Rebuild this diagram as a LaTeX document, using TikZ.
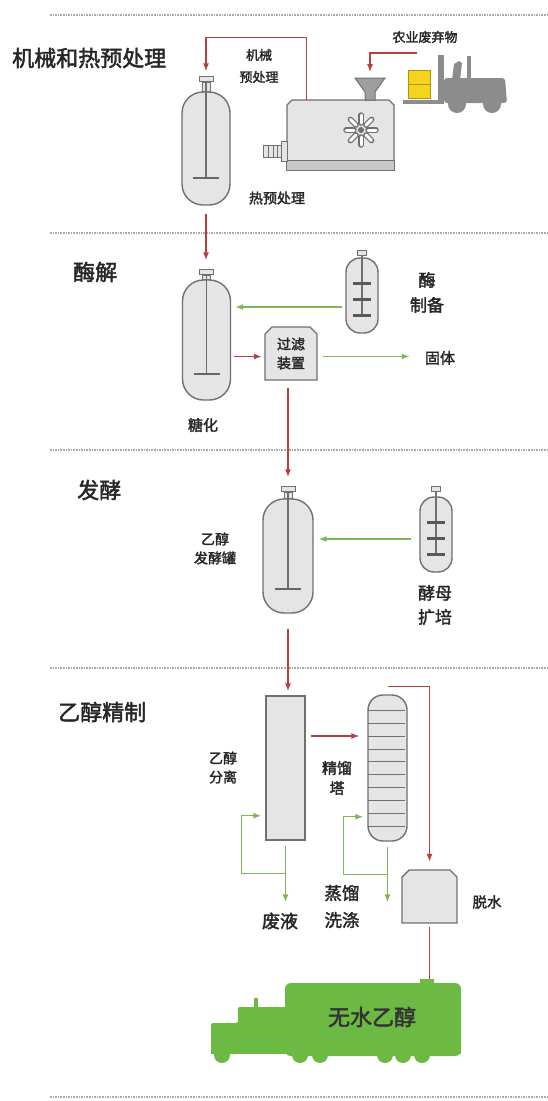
\documentclass[tikz,border=0pt]{standalone}
\usepackage{fontspec}
\setmainfont{Noto Sans CJK SC}[AutoFakeBold=2]
\usetikzlibrary{arrows.meta,positioning}
\definecolor{redline}{RGB}{183,64,62}
\definecolor{greenline}{RGB}{128,182,88}
\definecolor{truckgreen}{RGB}{108,185,68}
\definecolor{tankfill}{RGB}{229,229,229}
\definecolor{bandgray}{RGB}{200,200,200}
\definecolor{edgegray}{RGB}{112,112,112}
\definecolor{liftgray}{RGB}{140,140,140}
\definecolor{boxyellow}{RGB}{246,212,30}
\definecolor{sepgray}{RGB}{170,170,170}

\begin{document}
\begin{tikzpicture}[x=1pt,y=-1pt]
\tikzstyle{every node}+=[inner sep=0pt, text=black!85]
\tikzstyle{divider}=[draw=sepgray, densely dotted, line width=1.6pt]
\tikzstyle{vessel}=[draw=edgegray, fill=tankfill, line width=1.4pt, rounded corners=21pt, minimum width=48pt]
\tikzstyle{smallvessel}=[draw=edgegray, fill=tankfill, line width=1.4pt, rounded corners=14pt, minimum width=32pt, minimum height=75pt]
\tikzstyle{lid}=[draw=edgegray, fill=tankfill, line width=1pt, minimum width=14pt, minimum height=5pt]
\tikzstyle{shell}=[draw=edgegray, fill=tankfill, line width=1.4pt]
\tikzstyle{shaft}=[draw=edgegray, line width=1.3pt]
\tikzstyle{blade}=[draw=black!60, line width=2.2pt]
\tikzstyle{paddle}=[draw=black!65, line width=3pt]
\tikzstyle{flow}=[draw=redline, line width=1.3pt, -{Latex[length=8pt,width=6pt]}]
\tikzstyle{feed}=[draw=greenline, line width=1.5pt, -{Latex[length=8pt,width=6pt]}]
\tikzstyle{stagetitle}=[anchor=west, font=\bfseries\fontsize{22}{26}\selectfont]
\tikzstyle{lbl}=[align=center, font=\bfseries\fontsize{14}{19}\selectfont]

\useasboundingbox (0,0) rectangle (548,1101);
\fill[white] (0,0) rectangle (548,1101);

\foreach \y in {15,233,450,668,1097}
  \draw[divider] (50,\y) -- (548,\y);

\node[stagetitle] (t1) at (12,58) {机械和热预处理};
\node[stagetitle] (t2) at (73,272) {酶解};
\node[stagetitle] (t3) at (77,490) {发酵};
\node[stagetitle] (t4) at (58,712) {乙醇精制};

% mechanical and thermal pretreatment
\node[vessel, minimum height=113pt] (tank1) at (206,148.5) {};
\node[lid, above=9pt of tank1] (cap1) {};
\draw[draw=edgegray, fill=tankfill, line width=1pt] ([xshift=-4pt]cap1.south) rectangle ([xshift=4pt]cap1.south |- tank1.north);
\draw[shaft] (cap1.south) -- ([yshift=28pt]tank1.south);
\draw[blade] ([yshift=28pt]tank1.south) ++(-13,0) -- ++(26,0);
\node[lbl] (hot) at (277,198) {热预处理};

\filldraw[shell] (287,170) -- (287,105) -- (292,100) -- (389,100) -- (394,105) -- (394,170) -- cycle;
\node[minimum width=107pt, minimum height=70pt] (mill) at (340.5,135) {};
\filldraw[draw=edgegray, fill=bandgray, line width=1.2pt] (mill.south west) rectangle ([yshift=10pt]mill.south east);
\coordinate (fan) at (361,130);
\foreach \a in {0,45,...,315}
  \draw[edgegray, line width=5.5pt, line cap=round] (fan) ++(\a:7) -- ++(\a:8);
\foreach \a in {0,45,...,315}
  \draw[white, line width=3pt, line cap=round] (fan) ++(\a:7) -- ++(\a:8);
\fill[edgegray] (fan) circle (3);
\filldraw[draw=edgegray, fill=tankfill, line width=1pt] (263,145) rectangle (281,157);
\draw[edgegray, line width=1pt] (268,145) -- (268,157) (273,145) -- (273,157) (277,145) -- (277,157);
\filldraw[draw=edgegray, fill=tankfill, line width=1pt] (281,141) rectangle (287,161);
\filldraw[draw=edgegray, fill=black!38, line width=1pt] (355,78) -- (385,78) -- (375,92) -- (375,100) -- (365,100) -- (365,92) -- cycle;
\coordinate (hopper) at (370,78);

\fill[liftgray] (438,55) rectangle (444,104);
\fill[liftgray] (403,100) rectangle (440,104);
\fill[liftgray] (452,80) -- (454,64) -- (459,61) -- (462,63) -- (460,80) -- cycle;
\fill[liftgray] (467,56) rectangle (471,80);
\fill[liftgray, rounded corners=3pt] (444,78) -- (505,78) -- (507,103) -- (444,103) -- cycle;
\fill[liftgray] (457,104) circle (9) (492,104) circle (9);
\filldraw[draw=black!30!boxyellow, fill=boxyellow, line width=0.8pt] (408,70) rectangle (430,84) (408,84) rectangle (430,98);

\coordinate (waste) at (417,53);
\node[lbl, font=\bfseries\fontsize{13}{16}\selectfont] (agri) at (425,37) {农业废弃物};
\node[lbl, font=\bfseries\fontsize{13}{22}\selectfont] (mech) at (259,66) {机械\\预处理};
\draw[flow, shorten >=6pt] (waste) -| (hopper);
\draw[flow, shorten >=5pt] ([xshift=20pt]mill.north west) -- ++(0,-62) -| (cap1.north);

% enzymatic hydrolysis
\node[vessel, minimum height=120pt] (tank2) at (206.5,340) {};
\node[lid, above=4pt of tank2] (cap2) {};
\draw[draw=edgegray, fill=tankfill, line width=1pt] ([xshift=-4pt]cap2.south) rectangle ([xshift=4pt]cap2.south |- tank2.north);
\draw[shaft] (cap2.south) -- ([yshift=27pt]tank2.south);
\draw[blade] ([yshift=27pt]tank2.south) ++(-13,0) -- ++(26,0);
\node[lbl, font=\bfseries\fontsize{15}{19}\selectfont] (sacch) at (203,425) {糖化};

\node[smallvessel] (enz) at (362,295.5) {};
\node[lid, minimum width=9pt, above=1pt of enz] (cap4) {};
\draw[shaft] (cap4.south) -- ([yshift=-20pt]enz.center);
\foreach \dy in {-12,4,20}
  \draw[paddle] (enz.center) ++(-9,\dy) -- ++(18,0);
\node[lbl, font=\bfseries\fontsize{17}{25}\selectfont] (enzlbl) at (427,292.5) {酶\\制备};

\filldraw[shell] (265,380) -- (265,334) -- (272,327) -- (310,327) -- (317,334) -- (317,380) -- cycle;
\node[lbl, minimum width=52pt, minimum height=53pt] (filter) at (291,353.5) {过滤\\装置};
\node[lbl, font=\bfseries\fontsize{15}{19}\selectfont] (solid) at (440,358) {固体};

\draw[flow, shorten >=9pt, shorten <=8pt] (tank1.south) -- (tank1.south |- cap2.north);
\draw[feed, shorten <=3pt, shorten >=4pt] ([yshift=-11.5pt]enz.west) -- ([yshift=-11.5pt]enz.west -| tank2.east);
\draw[flow, shorten <=3pt, shorten >=3pt] (tank2.east |- filter.west) ++(0,3) -- ([yshift=-3pt]filter.west);
\draw[feed, shorten <=6pt, shorten >=15pt] ([yshift=-3pt]filter.east) -- ([yshift=-3pt]filter.east -| solid.west);

% fermentation
\node[vessel, minimum width=50pt, minimum height=114pt] (tank3) at (288,556) {};
\node[lid, above=6pt of tank3] (cap3) {};
\draw[draw=edgegray, fill=tankfill, line width=1pt] ([xshift=-4pt]cap3.south) rectangle ([xshift=4pt]cap3.south |- tank3.north);
\draw[shaft] (cap3.south) -- ([yshift=25pt]tank3.south);
\draw[blade] ([yshift=25pt]tank3.south) ++(-13,0) -- ++(26,0);
\node[lbl, font=\bfseries\fontsize{14}{19}\selectfont] (ferm) at (215,548.5) {乙醇\\发酵罐};

\node[smallvessel] (yeast) at (436,534.5) {};
\node[lid, minimum width=9pt, above=4pt of yeast] (cap5) {};
\draw[shaft] (cap5.south) -- ([yshift=-20pt]yeast.center);
\foreach \dy in {-12,4,20}
  \draw[paddle] (yeast.center) ++(-9,\dy) -- ++(18,0);
\node[lbl, font=\bfseries\fontsize{17}{24}\selectfont] (yeastlbl) at (435,605) {酵母\\扩培};

\draw[flow, shorten <=8pt, shorten >=9pt] (cap3.north |- filter.south) -- (cap3.north);
\draw[feed, shorten <=8pt, shorten >=5pt] ([yshift=-4.5pt]yeast.west) -- ([yshift=-4.5pt]yeast.west -| tank3.east);

% ethanol refining
\node[shell, minimum width=39pt, minimum height=144pt] (col1) at (285.5,768) {};
\node[shell, rounded corners=15pt, minimum width=39pt, minimum height=146pt] (col2) at (387.5,768) {};
\foreach \k in {0,...,9}
  \draw[edgegray, line width=1pt] (col2.north west) ++(1,{16+12.9*\k}) -- ++(37,0);
\filldraw[shell] (402,923) -- (402,877) -- (409,870) -- (450,870) -- (457,877) -- (457,923) -- cycle;
\node[minimum width=55pt, minimum height=53pt] (dehyd) at (429.5,896.5) {};

\node[lbl, font=\bfseries\fontsize{14}{19}\selectfont] (sepr) at (223,767.5) {乙醇\\分离};
\node[lbl, font=\bfseries\fontsize{15}{20}\selectfont] (rect) at (337,778) {精馏\\塔};
\node[lbl, font=\bfseries\fontsize{17.5}{27}\selectfont] (wash) at (342,906.5) {蒸馏\\洗涤};
\node[lbl, font=\bfseries\fontsize{18}{22}\selectfont] (drain) at (280,921) {废液};
\node[lbl, font=\bfseries\fontsize{14.5}{19}\selectfont] (dry) at (487,902) {脱水};

\draw[flow, shorten <=15pt, shorten >=4pt] (tank3.south) -- (tank3.south |- col1.north);
\draw[flow, shorten <=5pt, shorten >=8pt] ([yshift=32pt]col1.east) -- ([yshift=32pt]col1.east -| col2.west);
\draw[flow, shorten >=8pt] ([yshift=8pt]col2.north) -| (dehyd.north);

\draw[feed, shorten <=5pt, shorten >=10pt] (col1.south) -- (col1.south |- drain.north);
\draw[feed, shorten >=4pt] ([yshift=-33pt]col1.south) -- ++(-44,0) |- ([yshift=25pt]col1.south west);
\draw[feed, shorten <=5pt, shorten >=10pt] (col2.south) -- (col2.south |- drain.north);
\draw[feed, shorten >=4pt] ([yshift=-33pt]col2.south) -- ++(-44,0) |- ([yshift=25pt]col2.south west);

% tanker truck
\fill[truckgreen, rounded corners=6pt] (285,983) rectangle (461,1056);
\fill[truckgreen] (420,979) rectangle (434,985);
\fill[truckgreen, rounded corners=2pt] (211,1053) -- (211,1023) -- (238,1023) -- (238,1007) -- (287,1007) -- (287,1053) -- cycle;
\fill[truckgreen] (254,998) rectangle (258,1008);
\fill[truckgreen] (211,1040) rectangle (461,1054);
\foreach \x in {222,300,320,385,403,422}
  \fill[truckgreen] (\x,1055) circle (8);
\coordinate (tanker) at (428,979);
\node[font=\bfseries\fontsize{22}{26}\selectfont, text=black!80] (fuel) at (372,1017) {无水乙醇};

\draw[draw=redline, line width=1.3pt, shorten <=4pt] (dehyd.south) -- (dehyd.south |- tanker);
\end{tikzpicture}
\end{document}
